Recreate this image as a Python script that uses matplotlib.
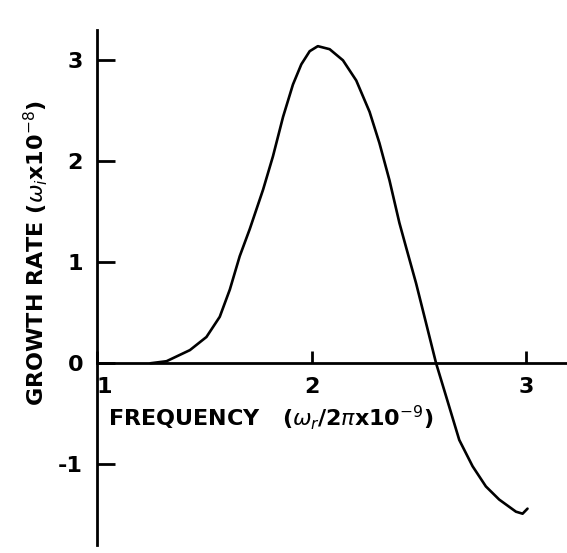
import matplotlib
matplotlib.use("Agg")
import matplotlib.pyplot as plt
from matplotlib.transforms import ScaledTranslation

freq = [1.25, 1.324, 1.433, 1.510, 1.572, 1.619, 1.665, 1.712, 1.774, 1.820, 1.867,
        1.913, 1.952, 1.991, 2.029, 2.084, 2.146, 2.208, 2.270, 2.316, 2.363, 2.409,
        2.440, 2.487, 2.533, 2.580, 2.627, 2.688, 2.750, 2.812, 2.874, 2.952, 2.983,
        3.006]
growth = [0.0, 0.02, 0.13, 0.26, 0.46, 0.73, 1.06, 1.33, 1.72, 2.05, 2.44,
          2.76, 2.96, 3.09, 3.14, 3.11, 3.00, 2.80, 2.49, 2.18, 1.81, 1.39,
          1.15, 0.79, 0.40, 0.0, -0.33, -0.76, -1.02, -1.22, -1.35, -1.47, -1.49,
          -1.44]
xticks = [1, 2, 3]
yticks = [-1, 0, 1, 2, 3]

plt.rcParams['font.family'] = ['DejaVu Sans']
fig = plt.figure(figsize=(5.67, 5.53), dpi=100)
ax = fig.add_axes([97/567, 1-545/553, 1-97/567, (545-30)/553])
ax.plot(freq, growth, color='black', lw=1.9, solid_capstyle='round',
        solid_joinstyle='round')
ax.set_xlim(1, 3.19)
ax.set_ylim(-1.80, 3.30)
for s in ['top', 'right']:
    ax.spines[s].set_visible(False)
ax.spines['left'].set_position(('data', 1))
ax.spines['bottom'].set_position(('data', 0))
ax.spines['left'].set_linewidth(2)
ax.spines['bottom'].set_linewidth(2)
ax.set_xticks(xticks)
ax.set_yticks(yticks)
ax.set_xticklabels([str(v) for v in xticks], fontweight='bold')
ax.set_yticklabels([str(v) for v in yticks], fontweight='bold')
ax.tick_params(axis='y', direction='in', length=13, width=2, labelsize=16, pad=10)
ax.tick_params(axis='x', direction='in', length=9, width=2, labelsize=16, pad=10)
lbl1 = ax.get_xticklabels()[0]
lbl1.set_transform(lbl1.get_transform() + ScaledTranslation(7/100, 0, fig.dpi_scale_trans))
fig.text(36/567, 1-253/553, r"GROWTH RATE ($\omega_i$x10$^{-8}$)", rotation=90,
         ha='center', va='center', fontsize=16, fontweight='bold')
fig.text(108/567, 1-418/553, r"FREQUENCY   ($\omega_r$/2$\pi$x10$^{-9}$)",
         ha='left', va='center', fontsize=16, fontweight='bold')
fig.savefig("out.png", dpi=100)
